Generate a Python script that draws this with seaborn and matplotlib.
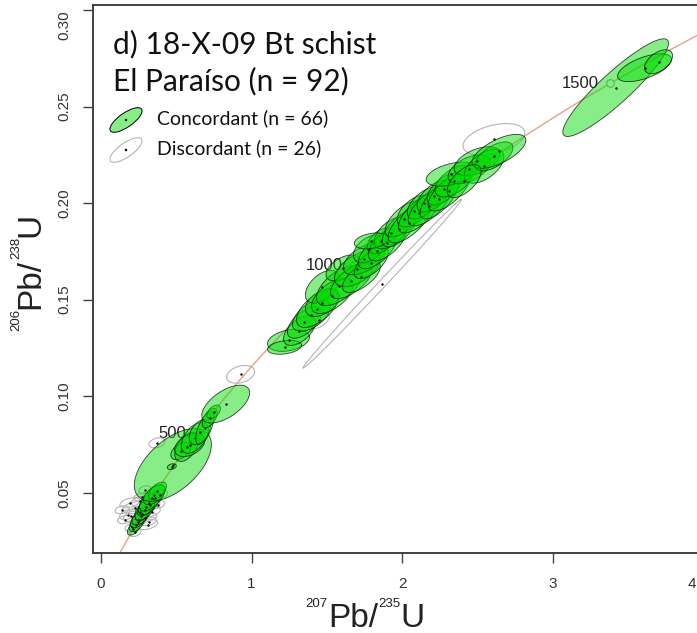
import numpy as np
import pandas as pd
import matplotlib
matplotlib.use('Agg')
import matplotlib.pyplot as plt
from matplotlib.patches import Polygon, Ellipse
from matplotlib.transforms import IdentityTransform, Affine2D
import seaborn as sns

# decay constants (1/Ma)
lam238 = 1.55125e-4
lam235 = 9.8485e-4

# concordant analyses: 207Pb/235U, 206Pb/238U, error half widths, error correlation
conc_x = [0.215, 0.235, 0.250, 0.265, 0.275, 0.290, 0.300, 0.320, 0.340, 0.355, 0.375,
          0.477, 0.470, 0.530, 0.570, 0.589, 0.623, 0.656, 0.689, 0.722, 0.748, 0.828,
          1.245, 1.219, 1.318, 1.351, 1.397, 1.437, 1.470, 1.470, 1.537, 1.583, 1.607,
          1.662, 1.702, 1.729, 1.748, 1.795, 1.782, 1.835, 1.861, 1.901, 1.927, 1.795,
          1.980, 2.013, 2.046, 2.080, 2.113, 2.146, 2.179, 2.212, 2.245, 2.278, 2.311,
          2.344, 2.325, 2.444, 2.497, 2.543, 2.609, 2.642, 2.411,
          3.417, 3.609, 3.702]
conc_y = [0.0312, 0.0335, 0.0360, 0.0378, 0.0392, 0.0410, 0.0425, 0.0445, 0.0472, 0.0490, 0.0510,
          0.0644, 0.0635, 0.0716, 0.0737, 0.0747, 0.0784, 0.0814, 0.0835, 0.0887, 0.0918, 0.0959,
          0.1289, 0.1253, 0.1340, 0.1382, 0.1418, 0.1454, 0.1485, 0.1567, 0.1521, 0.1572, 0.1664,
          0.1598, 0.1660, 0.1619, 0.1711, 0.1691, 0.1763, 0.1753, 0.1804, 0.1794, 0.1845, 0.1804,
          0.1866, 0.1918, 0.1897, 0.1959, 0.1949, 0.2000, 0.1985, 0.2036, 0.2021, 0.2072, 0.2062,
          0.2114, 0.2150, 0.2175, 0.2217, 0.2191, 0.2242, 0.2268, 0.2114,
          0.2598, 0.2701, 0.2732]
conc_sx = [0.040, 0.048, 0.054, 0.060, 0.048, 0.066, 0.060, 0.072, 0.084, 0.072, 0.060,
           0.256, 0.030, 0.066, 0.080, 0.100, 0.090, 0.070, 0.060, 0.050, 0.045, 0.159,
           0.139, 0.113, 0.106, 0.113, 0.126, 0.139, 0.113, 0.113, 0.139, 0.152, 0.113,
           0.139, 0.152, 0.126, 0.139, 0.113, 0.106, 0.126, 0.093, 0.126, 0.113, 0.113,
           0.113, 0.126, 0.139, 0.113, 0.139, 0.113, 0.139, 0.113, 0.126, 0.113, 0.139,
           0.126, 0.166, 0.139, 0.152, 0.132, 0.126, 0.179, 0.113,
           0.351, 0.179, 0.093]
conc_sy = [0.0032, 0.0037, 0.0042, 0.0045, 0.0039, 0.0052, 0.0045, 0.0060, 0.0067, 0.0052, 0.0045,
           0.0188, 0.0015, 0.0045, 0.0075, 0.0060, 0.0080, 0.0065, 0.0085, 0.0050, 0.0036, 0.0098,
           0.0057, 0.0036, 0.0077, 0.0082, 0.0082, 0.0098, 0.0072, 0.0085, 0.0093, 0.0103, 0.0067,
           0.0093, 0.0093, 0.0082, 0.0082, 0.0082, 0.0072, 0.0093, 0.0067, 0.0093, 0.0082, 0.0041,
           0.0093, 0.0093, 0.0103, 0.0082, 0.0103, 0.0082, 0.0103, 0.0082, 0.0103, 0.0082, 0.0103,
           0.0082, 0.0062, 0.0075, 0.0075, 0.0088, 0.0075, 0.0088, 0.0085,
           0.0253, 0.0072, 0.0062]
conc_rho = [0.5, 0.5, 0.55, 0.55, 0.5, 0.55, 0.55, 0.6, 0.65, 0.55, 0.55,
            0.56, 0.3, 0.45, 0.5, 0.4, 0.5, 0.45, 0.65, 0.55, 0.5, 0.6,
            0.3, 0.3, 0.55, 0.6, 0.55, 0.6, 0.45, 0.5, 0.6, 0.6, 0.5,
            0.65, 0.55, 0.65, 0.55, 0.65, 0.45, 0.65, 0.45, 0.65, 0.55, 0.3,
            0.65, 0.65, 0.7, 0.55, 0.7, 0.6, 0.7, 0.6, 0.7, 0.6, 0.7,
            0.55, 0.45, 0.5, 0.5, 0.55, 0.6, 0.65, 0.6,
            0.91, 0.6, 0.5]

# discordant analyses
disc_x = [1.868, 2.609, 0.927, 0.371,
          0.192, 0.225, 0.179, 0.258, 0.291, 0.325, 0.245, 0.205, 0.358,
          0.159, 0.311, 0.391, 0.272, 0.225, 0.338, 0.140, 0.378, 0.291,
          0.200, 0.262, 0.318, 1.450]
disc_y = [0.1583, 0.2330, 0.1113, 0.0758,
          0.0448, 0.0423, 0.0387, 0.0402, 0.0371, 0.0438, 0.0350, 0.0320, 0.0474,
          0.0361, 0.0335, 0.0490, 0.0479, 0.0294, 0.0402, 0.0412, 0.0438, 0.0515,
          0.0378, 0.0455, 0.0350, 0.1392]
disc_sx = [0.527, 0.205, 0.093, 0.053,
           0.066, 0.080, 0.056, 0.073, 0.080, 0.066, 0.056, 0.046, 0.056,
           0.050, 0.066, 0.050, 0.056, 0.040, 0.056, 0.046, 0.046, 0.040,
           0.050, 0.060, 0.050, 0.066]
disc_sy = [0.0438, 0.0082, 0.0046, 0.0026,
           0.0026, 0.0031, 0.0026, 0.0031, 0.0026, 0.0031, 0.0026, 0.0021, 0.0026,
           0.0021, 0.0026, 0.0026, 0.0021, 0.0021, 0.0026, 0.0021, 0.0021, 0.0021,
           0.0026, 0.0026, 0.0021, 0.0041]
disc_rho = [0.998, 0.4, 0.3, 0.3,
            0.4, 0.3, 0.4, 0.3, 0.4, 0.3, 0.4, 0.3, 0.4,
            0.3, 0.4, 0.3, 0.4, 0.3, 0.4, 0.3, 0.4, 0.3,
            0.4, 0.3, 0.4, 0.5]

age_ticks = [500, 1000, 1500]
x_ticks = [0, 1, 2, 3, 4]
y_ticks = [0.05, 0.10, 0.15, 0.20, 0.25, 0.30]

title_lines = ['d) 18-X-09 Bt schist', 'El Paraíso (n = 92)']
legend_labels = ['Concordant (n = 66)', 'Discordant (n = 26)']

GREEN = (0.0, 0.86, 0.0, 0.47)
GREY = '#b4b4b4'


def ellipse_xy(x, y, sx, sy, rho, n=90):
    t = np.linspace(0, 2 * np.pi, n)
    ex = x + sx * np.cos(t)
    ey = y + sy * (rho * np.cos(t) + np.sqrt(1 - rho ** 2) * np.sin(t))
    return np.column_stack([ex, ey])


def iso_label(fig, cx, cy, parts, vertical=False):
    # superscript mass numbers need their own (small) font size
    r = fig.canvas.get_renderer()
    widths = []
    for s, fs, up in parts:
        tmp = fig.text(0, 0, s, fontsize=fs)
        widths.append(tmp.get_window_extent(r).width)
        tmp.remove()
    pos = -sum(widths) / 2
    for (s, fs, up), w in zip(parts, widths):
        if vertical:
            px, py = cx - up, cy + pos
        else:
            px, py = cx + pos, cy + up
        fig.text(px, py, s, fontsize=fs, transform=IdentityTransform(), ha='left',
                 va='baseline', rotation=90 if vertical else 0,
                 rotation_mode='anchor', color='#222222')
        pos += w


sns.set_style('ticks')
plt.rcParams['font.family'] = ['Liberation Sans', 'DejaVu Sans']

conc = pd.DataFrame({'x': conc_x, 'y': conc_y, 'sx': conc_sx, 'sy': conc_sy, 'rho': conc_rho})
disc = pd.DataFrame({'x': disc_x, 'y': disc_y, 'sx': disc_sx, 'sy': disc_sy, 'rho': disc_rho})

fig = plt.figure(figsize=(6.97, 6.33), dpi=100)
ax = fig.add_axes([93 / 697, 80 / 633, 627 / 697, 548 / 633])

# concordia curve
t = np.linspace(0, 1800, 500)
curve = pd.DataFrame({'x': np.exp(lam235 * t) - 1, 'y': np.exp(lam238 * t) - 1})
sns.lineplot(data=curve, x='x', y='y', sort=False, color='#e8a08a', lw=1.0, ax=ax, zorder=1)

# age markers on the concordia (they sit under the ellipses)
ages = pd.DataFrame({'age': age_ticks})
ages['x'] = np.exp(lam235 * ages['age']) - 1
ages['y'] = np.exp(lam238 * ages['age']) - 1
sns.scatterplot(data=ages, x='x', y='y', s=30, marker='o', facecolor='white',
                edgecolor='#9a9a9a', linewidth=0.8, legend=False, ax=ax, zorder=1.5)
for _, row in ages.iterrows():
    ax.annotate(str(int(row.age)), (row.x, row.y), xytext=(-8, 0), textcoords='offset points',
                ha='right', va='center', fontsize=12, color='#222222', zorder=1.6)

for _, row in disc.iterrows():
    ax.add_patch(Polygon(ellipse_xy(row.x, row.y, row.sx, row.sy, row.rho), closed=True,
                         facecolor='none', edgecolor=GREY, lw=0.8, zorder=2))
for _, row in conc.iterrows():
    ax.add_patch(Polygon(ellipse_xy(row.x, row.y, row.sx, row.sy, row.rho), closed=True,
                         facecolor=GREEN, edgecolor=(0, 0, 0, 0.75), lw=0.6, zorder=3))

centres = pd.concat([conc, disc])
sns.scatterplot(data=centres, x='x', y='y', s=3, color='black', linewidth=0,
                legend=False, ax=ax, zorder=4)

ax.set_xlim(-0.0531, 4.110)
ax.set_ylim(0.01877, 0.3026)
ax.set_xticks(x_ticks)
ax.set_xticklabels([str(v) for v in x_ticks[:-1]] + [''])
ax.set_yticks(y_ticks)
ax.set_yticklabels(['%.2f' % v for v in y_ticks])
ax.tick_params(axis='both', direction='out', length=7.5, width=1, color='#444444',
               labelsize=11, labelcolor='#333333')
ax.tick_params(axis='x', pad=9.5)
ax.tick_params(axis='y', pad=8, labelrotation=90)
for lab in ax.get_yticklabels():
    lab.set_va('center')
ax.get_yticklabels()[-1].set_va('top')
for s in ['left', 'bottom', 'top']:
    ax.spines[s].set_color('#333333')
    ax.spines[s].set_linewidth(1.3)
ax.spines['right'].set_visible(False)
ax.set_xlabel('')
ax.set_ylabel('')
# the last x tick falls just past the right edge, keep its label inside
fig.text(696, 633 - 577, str(x_ticks[-1]), transform=IdentityTransform(), fontsize=11,
         color='#333333', ha='right', va='top')

# title
title_font = ['Lato', 'DejaVu Sans']
ax.text(0.0319, 0.912, title_lines[0], transform=ax.transAxes, fontsize=21.5,
        family=title_font, ha='left', va='baseline', color='#111111')
ax.text(0.0319, 0.845, title_lines[1], transform=ax.transAxes, fontsize=21.5,
        family=title_font, ha='left', va='baseline', color='#111111')

# legend, drawn by hand so the symbols can be ellipses
for i, (lab, yy) in enumerate(zip(legend_labels, [118, 148])):
    disp_y = 633 - yy - 2
    if i == 0:
        glyph = Ellipse((0, 0), 38, 14, angle=35, facecolor=GREEN, edgecolor='black', lw=0.7)
    else:
        glyph = Ellipse((0, 0), 38, 14, angle=35, facecolor='none', edgecolor=GREY, lw=0.8)
    glyph.set_transform(Affine2D().translate(126, disp_y))
    fig.add_artist(glyph)
    fig.add_artist(Ellipse((0, 0), 2.5, 2.5, facecolor='black', edgecolor='none',
                           transform=Affine2D().translate(126, disp_y)))
    fig.text(157, 633 - yy, lab, transform=IdentityTransform(), fontsize=14,
             family=title_font, ha='left', va='center', color='#111111')

# axis titles with small superscript mass numbers
iso_label(fig, 365, 633 - 627, [('207', 9.5, 20), ('Pb/', 24, 0), ('235', 9.5, 20), ('U', 24, 0)])
iso_label(fig, 39, 633 - 272, [('206', 9.5, 20), ('Pb/', 24, 0), ('238', 9.5, 20), ('U', 24, 0)],
          vertical=True)

fig.savefig('out.png', dpi=100)
